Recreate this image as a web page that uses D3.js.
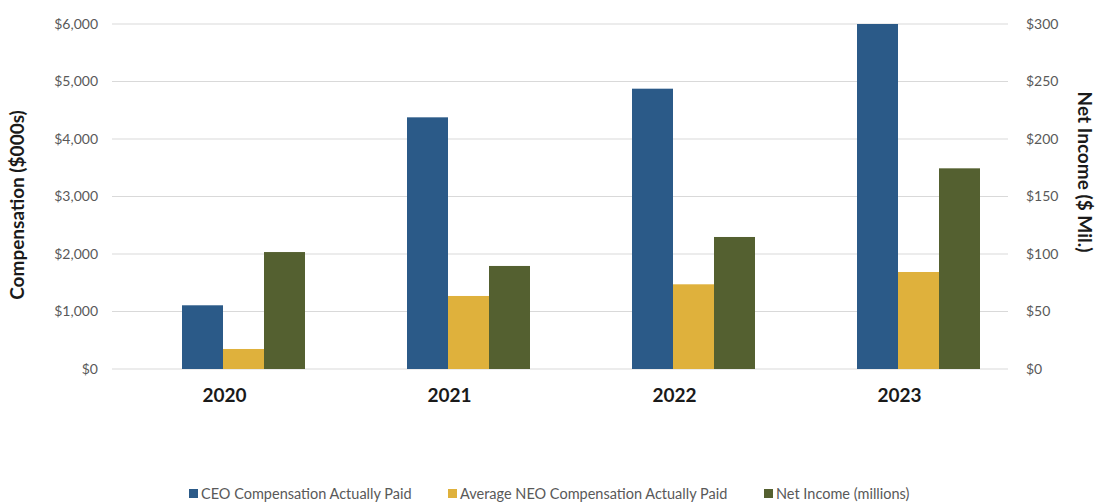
<!DOCTYPE html>
<html>
<head>
<meta charset="utf-8">
<script src="https://cdn.jsdelivr.net/npm/d3@7"></script>
<style>
  body { margin: 0; background: #fff; }
  svg text { font-family: Lato, "Open Sans", sans-serif; }
</style>
</head>
<body>
<svg id="chart" width="1098" height="502"></svg>
<script>
var years = ["2020", "2021", "2022", "2023"];
var ceoPaid = [1108, 4377, 4875, 6000];       // $000s
var neoPaid = [348, 1270, 1473, 1687];        // $000s
var netIncome = [101.7, 89.6, 114.8, 174.5];  // $ millions
var leftTicks = [0, 1000, 2000, 3000, 4000, 5000, 6000];
var rightTicks = [0, 50, 100, 150, 200, 250, 300];
var seriesNames = ["CEO Compensation Actually Paid", "Average NEO Compensation Actually Paid", "Net Income (millions)"];
var colors = ["#2b5a88", "#dfb13c", "#546030"];

var svg = d3.select("#chart");
var gridLeft = 112, gridRight = 1008, plotTop = 24, plotBottom = 369;

// category bands; bars sit right of the label centre as in the original
var x = d3.scaleBand().domain(years).range([112, 1012]);
var xs = d3.scaleBand().domain([0, 1, 2]).range([70, 193]);
var yL = d3.scaleLinear().domain([0, 6000]).range([plotBottom, plotTop]);
var yR = d3.scaleLinear().domain([0, 300]).range([plotBottom, plotTop]);

// gridlines
svg.append("g").selectAll("line").data(leftTicks).join("line")
  .attr("x1", gridLeft).attr("x2", gridRight)
  .attr("y1", function (d) { return yL(d); }).attr("y2", function (d) { return yL(d); })
  .attr("stroke", "#d9d9d9").attr("stroke-width", 1);

// axes
var fmtL = function (d) { return "$" + d3.format(",")(d); };
var axL = svg.append("g").attr("transform", "translate(" + gridLeft + ",0)")
  .call(d3.axisLeft(yL).tickValues(leftTicks).tickFormat(fmtL).tickSize(0).tickPadding(14));
var axR = svg.append("g").attr("transform", "translate(" + gridRight + ",0)")
  .call(d3.axisRight(yR).tickValues(rightTicks).tickFormat(function (d) { return "$" + d; }).tickSize(0).tickPadding(18));
[axL, axR].forEach(function (a) {
  a.select(".domain").remove();
  a.selectAll("text").attr("fill", "#595959").style("font-size", "14px");
});

// bars
var rows = years.map(function (yr, i) {
  return [
    { year: yr, k: 0, y: yL(ceoPaid[i]) },
    { year: yr, k: 1, y: yL(neoPaid[i]) },
    { year: yr, k: 2, y: yR(netIncome[i]) }
  ];
});
svg.append("g").selectAll("g").data(rows).join("g")
  .attr("transform", function (d) { return "translate(" + x(d[0].year) + ",0)"; })
  .selectAll("rect").data(function (d) { return d; }).join("rect")
  .attr("x", function (d) { return xs(d.k); })
  .attr("width", xs.bandwidth())
  .attr("y", function (d) { return d.y; })
  .attr("height", function (d) { return plotBottom - d.y; })
  .attr("fill", function (d) { return colors[d.k]; });

// year labels
svg.append("g").selectAll("text").data(years).join("text")
  .attr("x", function (d) { return x(d) + x.bandwidth() / 2; })
  .attr("y", 402)
  .attr("text-anchor", "middle")
  .attr("font-weight", "bold").style("font-size", "19px").attr("fill", "#1a1a1a")
  .text(function (d) { return d; });

// axis titles
svg.append("text").attr("transform", "translate(24,205) rotate(-90)")
  .attr("text-anchor", "middle").attr("font-weight", "bold").style("font-size", "19px")
  .attr("fill", "#1a1a1a").text("Compensation ($000s)");
svg.append("text").attr("transform", "translate(1078,172) rotate(90)")
  .attr("text-anchor", "middle").attr("font-weight", "bold").style("font-size", "19px")
  .attr("fill", "#1a1a1a").text("Net Income ($ Mil.)");

// legend
var legX = [189, 448, 764];
var leg = svg.append("g").selectAll("g").data(seriesNames).join("g")
  .attr("transform", function (d, i) { return "translate(" + legX[i] + ",488)"; });
leg.append("rect").attr("width", 9).attr("height", 9).attr("y", 1)
  .attr("fill", function (d, i) { return colors[i]; });
leg.append("text").attr("x", 12).attr("y", 10.5)
  .style("font-size", "14.5px").attr("fill", "#595959")
  .text(function (d) { return d; });
</script>
</body>
</html>
